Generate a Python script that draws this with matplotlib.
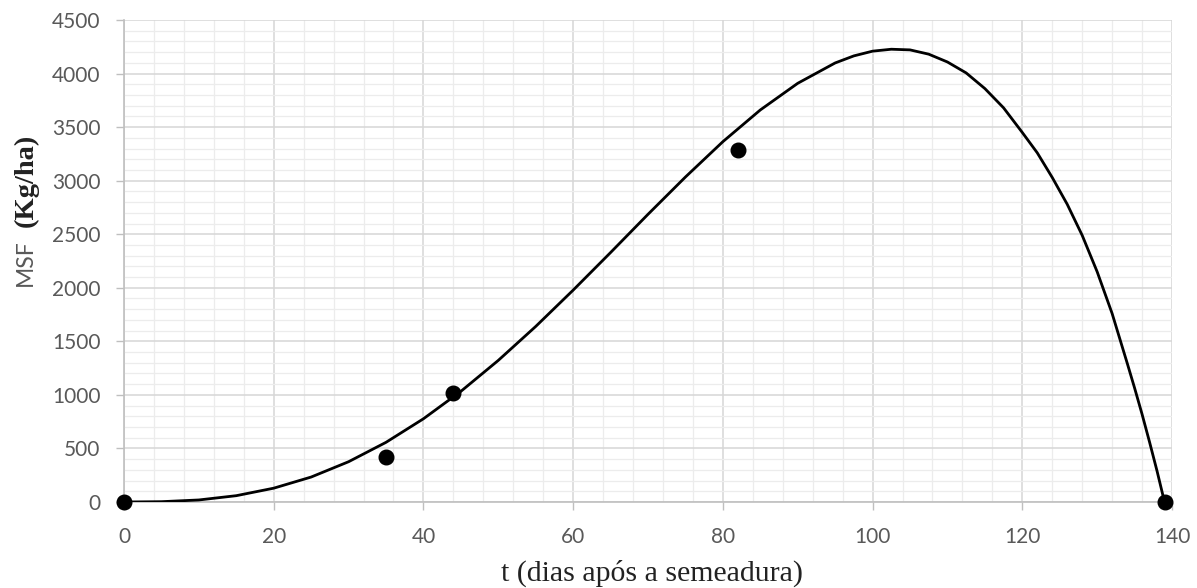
import matplotlib
matplotlib.use("Agg")
from matplotlib import pyplot as plt
from matplotlib.ticker import MultipleLocator

# observed points (dias, MSF kg/ha)
obs_t = [0, 35, 44, 82, 139]
obs_msf = [0, 420, 1020, 3290, 0]

# fitted curve, values
fit_t = [0, 5, 10, 15, 20, 25, 30, 35, 40, 45, 50, 55, 60, 65, 70, 75, 80, 85, 90, 95,
         97.5, 100, 102.5, 105, 107.5, 110, 112.5, 115, 117.5, 120, 122, 124, 126, 128,
         130, 132, 134, 135, 136, 137, 138, 139]
fit_msf = [0, 3, 19, 59, 129, 233, 376, 557, 777, 1033, 1322, 1639, 1978, 2329, 2686, 3034,
           3364, 3660, 3909, 4099, 4165, 4209, 4227, 4221, 4181, 4108, 4006, 3860, 3680,
           3450, 3260, 3030, 2780, 2490, 2150, 1760, 1300, 1065, 820, 560, 290, 0]

x_ticks = [0, 20, 40, 60, 80, 100, 120, 140]
y_ticks = [0, 500, 1000, 1500, 2000, 2500, 3000, 3500, 4000, 4500]

fig = plt.figure(figsize=(11.97, 5.88), dpi=100)
ax = fig.add_axes([124/1197, 1-502/588, (1172-124)/1197, (502-20)/588])

ax.plot(fit_t, fit_msf, color='black', lw=2.0, zorder=3, solid_joinstyle='round')
ax.plot(obs_t, obs_msf, 'o', color='black', ms=10.5, zorder=4, clip_on=False)

ax.set_xlim(0, 140)
ax.set_ylim(0, 4500)
ax.set_xticks(x_ticks)
ax.set_yticks(y_ticks)
ax.xaxis.set_minor_locator(MultipleLocator(4))
ax.yaxis.set_minor_locator(MultipleLocator(100))
ax.grid(which='major', color='#d6d6d6', lw=1.1)
ax.grid(which='minor', color='#ececec', lw=0.9)
ax.set_axisbelow(True)

for s in ['top', 'right']:
    ax.spines[s].set_visible(False)
for s in ['left', 'bottom']:
    ax.spines[s].set_color('#bfbfbf')
    ax.spines[s].set_linewidth(1.2)

ax.tick_params(which='major', length=6, width=1, color='#bfbfbf', labelcolor='#595959',
               labelsize=15)
ax.tick_params(axis='x', which='major', pad=12)
ax.tick_params(axis='y', which='major', pad=11)
ax.tick_params(which='minor', length=0)
for lab in ax.get_xticklabels() + ax.get_yticklabels():
    lab.set_fontfamily('Lato')

fig.text(652/1197, 1-573/588, 't (dias após a semeadura)', ha='center', va='center',
         family='Liberation Serif', fontsize=21.5, color='#222222')
fig.text(25/1197, 1-263/588, 'MSF', rotation=90, ha='center', va='center',
         family='Lato', fontsize=16.5, color='#595959')
fig.text(26/1197, 1-180/588, '(Kg/ha)', rotation=90, ha='center', va='center',
         family='Liberation Serif', fontsize=20.5, fontweight='bold', color='#222222')

fig.savefig('out.png', dpi=100)
